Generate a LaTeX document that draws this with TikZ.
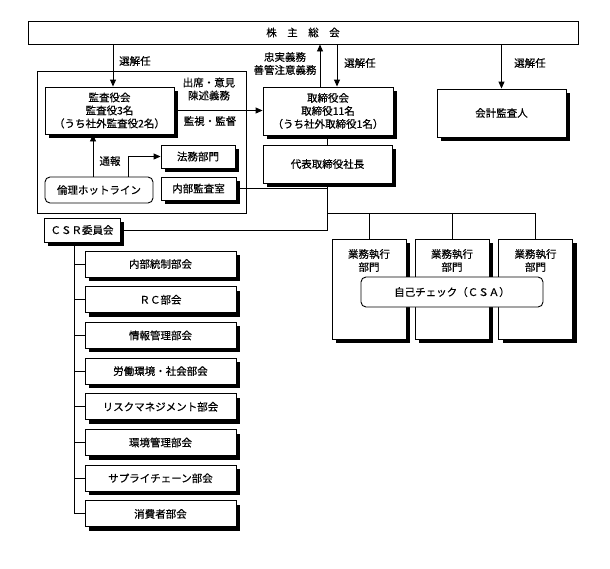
\documentclass[tikz,border=0pt]{standalone}
\usepackage{fontspec}
\newfontfamily\jp[FakeBold=0.5]{Noto Sans CJK JP}
\usetikzlibrary{shadows,arrows.meta}
\begin{document}
\begin{tikzpicture}[x=1pt,y=-1pt,
 every node/.style={font=\jp\fontsize{10.5}{13}\selectfont, inner sep=0pt},
 box/.style={draw, line width=0.9pt, fill=white, align=center},
 sbox/.style={box, general shadow={fill=black, shadow xshift=4pt, shadow yshift=-4pt}},
 rbox/.style={box, rounded corners=5pt},
 conn/.style={line width=0.9pt},
 arr/.style={conn, -{Triangle[length=7pt,width=6pt]}},
 txt/.style={align=center}]
\useasboundingbox (0,0) rectangle (610,568);
% top
\node[box, minimum width=550pt, minimum height=23pt] (kabu) at (303,32.5) {株　主　総　会};
\node[draw, line width=0.9pt, minimum width=209pt, minimum height=142pt] (outer) at (141.5,142) {};
\node[sbox, minimum width=129pt, minimum height=47pt] (kansa) at (109.5,110.5) {監査役会\\監査役3名\\（うち社外監査役2名）};
\node[sbox, minimum width=74pt, minimum height=23pt] (homu) at (198,156.5) {法務部門};
\node[sbox, minimum width=75pt, minimum height=23pt] (naibu) at (198.5,188.5) {内部監査室};
\node[rbox, minimum width=108pt, minimum height=26pt] (rinri) at (99,190) {倫理ホットライン};
\node[sbox, minimum width=130pt, minimum height=48pt] (tori) at (328,111) {取締役会\\取締役11名\\（うち社外取締役1名）};
\node[sbox, minimum width=129pt, minimum height=38pt] (daihyo) at (327.5,164) {代表取締役社長};
\node[sbox, minimum width=129pt, minimum height=48pt] (kaikei) at (501.5,113) {会計監査人};
\node[sbox, minimum width=76pt, minimum height=24pt] (csr) at (82,230) {ＣＳＲ委員会};
% CSR sub-committees
\foreach \t [count=\i] in {内部統制部会,ＲＣ部会,情報管理部会,労働環境・社会部会,リスクマネジメント部会,環境管理部会,サプライチェーン部会,消費者部会}
  \node[sbox, minimum width=151pt, minimum height=26pt] (s\i) at (160.5,{264+35.7*(\i-1)}) {\t};
% business divisions
\foreach \x [count=\i] in {369,452,535.5}{
  \node[sbox, minimum width=74pt, minimum height=100pt] (g\i) at (\x,289) {};
  \node[txt] (gt\i) at (\x,260.5) {業務執行\\部門};
}
\node[rbox, minimum width=182pt, minimum height=30pt] (self) at (452,292) {自己チェック（ＣＳＡ）};
% labels
\node[anchor=west] (l1) at (119,61) {選解任};
\node[txt] (l2) at (285,63.5) {忠実義務\\善管注意義務};
\node[anchor=west] (l3) at (344,63) {選解任};
\node[anchor=west] (l4) at (514,63) {選解任};
\node[txt] (l5) at (209,89) {出席・意見\\陳述義務};
\node (l6) at (210,121) {監視・監督};
\node (l7) at (110,161) {通報};
% connectors
\coordinate (xk) at (113,0);
\coordinate (xu) at (320,0);
\coordinate (xd) at (337,0);
\coordinate (xr1) at (93,0);
\coordinate (xr2) at (128,0);
\coordinate (xc) at (74,0);
\coordinate (hb) at (0,213);
\draw[arr] (kabu.south -| xk) -- (xk |- kansa.north);
\draw[arr] (tori.north -| xu) -- (xu |- kabu.south);
\draw[arr] (kabu.south -| xd) -- (xd |- tori.north);
\draw[arr] (kabu.south -| kaikei.north) -- (kaikei.north);
\draw[arr] (kansa.east) -- (kansa.east -| tori.west);
\draw[conn] (daihyo.north |- tori.south) -- (daihyo.north);
\draw[arr] (rinri.north -| xr1) -- (xr1 |- kansa.south);
\draw[arr] (rinri.north -| xr2) |- (homu.west);
\coordinate (j1) at (daihyo.south |- csr.east);
\draw[conn] (daihyo.south) -- (j1);
\draw[conn] (csr.east) -- (j1);
\draw[conn] (naibu.east) -- (naibu.east -| daihyo.south);
\draw[conn] (daihyo.south |- hb) -| (g3.north);
\draw[conn] (g1.north |- hb) -- (g1.north);
\draw[conn] (g2.north |- hb) -- (g2.north);
\draw[conn] (csr.south -| xc) -- (xc |- s8.west);
\foreach \i in {1,...,8} \draw[conn] (xc |- s\i.west) -- (s\i.west);
\end{tikzpicture}
\end{document}
